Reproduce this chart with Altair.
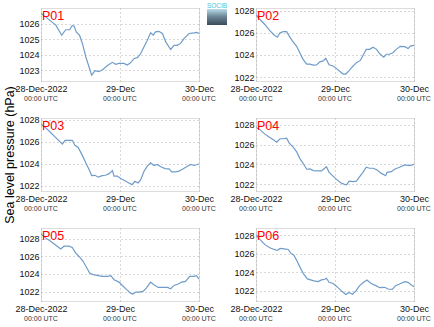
import altair as alt
import pandas as pd

FONT = "Liberation Sans"

# ---------------- data (hours since 28-Dec-2022 00:00 UTC, sea level pressure hPa) -------------
hours_p01 = [0, 1.4, 2.9, 4.5, 6.3, 7.5, 8.7, 9.5, 10.1, 10.7, 11.7, 12.6, 13.6, 14.6, 15.4, 16.4, 17.6,
             18.8, 20.2, 21.7, 22.7, 23.7, 25.2, 26.2, 27.2, 28.3, 29.3, 30.3, 31.3, 32.3, 33.3, 34.1,
             34.8, 35.8, 36.9, 37.9, 39.4, 40.4, 41.4, 42.4, 43.5, 45, 46.5, 47.2, 48]
slp_p01 = [1026.64, 1026.43, 1026.17, 1025.9, 1025.25, 1025.6, 1025.6, 1025.87, 1025.83, 1025.46, 1025.25,
           1024.7, 1023.86, 1023.2, 1022.68, 1022.96, 1022.9, 1023.04, 1023.3, 1023.5, 1023.37, 1023.43,
           1023.43, 1023.33, 1023.47, 1023.75, 1023.8, 1024.07, 1024.5, 1024.93, 1025.4, 1025.25, 1025.46,
           1025.5, 1025.36, 1024.82, 1024.33, 1024.6, 1024.6, 1024.72, 1025.04, 1025.36, 1025.4, 1025.43,
           1025.36]

hours_p02 = [0, 1.2, 2.7, 4.2, 5.5, 6.5, 7.3, 8.3, 9.3, 10.1, 11.1, 12.3, 13.3, 14.3, 15.4, 16.4, 17.4, 18.4,
             19.4, 20.4, 21.2, 22.2, 23.4, 24.4, 25.5, 26.5, 27.3, 28.3, 29.3, 30.5, 31.7, 32.7, 33.5, 34.5,
             35.6, 36.6, 37.6, 38.8, 39.6, 40.6, 41.6, 42.6, 43.8, 45.2, 46.2, 46.9, 48]
slp_p02 = [1027.64, 1027.2, 1026.75, 1026.2, 1025.8, 1025.6, 1026.0, 1026.1, 1026.1, 1025.7, 1025.25, 1024.8,
           1024.2, 1023.6, 1023.16, 1023.16, 1023.07, 1023.1, 1023.37, 1023.46, 1023.7, 1023.1, 1023.0,
           1022.78, 1022.5, 1022.27, 1022.27, 1022.57, 1022.93, 1023.3, 1023.5, 1024.06, 1024.5, 1024.5,
           1024.7, 1024.5, 1024.1, 1023.8, 1024.06, 1024.06, 1024.2, 1024.5, 1024.77, 1024.74, 1024.57,
           1024.8, 1024.87]

hours_p03 = [0, 1.4, 2.9, 4.5, 5.5, 6.5, 7.3, 8.5, 9.5, 10.3, 11.3, 12.4, 13.6, 14.6, 15.4, 16.4, 17.4, 18.6,
             19.6, 20.7, 21.7, 22.2, 23.2, 24.2, 25.5, 26.7, 27.7, 28.5, 29.5, 30.3, 31.3, 32.3, 33.3, 34.3,
             35.3, 36.4, 37.7, 38.9, 39.7, 40.9, 41.9, 43.1, 44.5, 45.5, 46.5, 48]
slp_p03 = [1027.62, 1027.3, 1026.86, 1026.4, 1026.1, 1025.8, 1026.15, 1026.15, 1026.15, 1025.7, 1025.5,
           1024.87, 1024.1, 1023.5, 1022.94, 1022.97, 1022.8, 1022.94, 1022.97, 1023.12, 1023.4, 1022.9,
           1022.9, 1022.67, 1022.48, 1022.27, 1022.12, 1022.42, 1022.27, 1022.57, 1023.34, 1023.8, 1024.1,
           1023.86, 1023.95, 1023.74, 1023.58, 1023.55, 1023.28, 1023.28, 1023.34, 1023.55, 1023.8,
           1023.95, 1023.86, 1024.0]

hours_p04 = [0, 1.2, 2.7, 4.2, 5.3, 6.3, 7.3, 8.3, 9.3, 10.1, 11.3, 12.3, 13.3, 14.3, 15.4, 16.4, 17.4, 18.9,
             19.9, 20.6, 21.4, 22.2, 23.4, 24.4, 25.7, 26.7, 27.5, 28.3, 29.5, 30.5, 31.5, 32.5, 33.5, 34.5,
             35.6, 36.8, 38.1, 39.4, 39.8, 41.1, 42.1, 43.6, 45.2, 46.7, 48]
slp_p04 = [1027.73, 1027.5, 1027.05, 1026.7, 1026.47, 1026.24, 1026.58, 1026.58, 1026.64, 1026.14, 1025.73,
           1025.29, 1024.6, 1024.1, 1023.5, 1023.53, 1023.36, 1023.33, 1023.33, 1023.53, 1023.76, 1023.19,
           1022.8, 1022.5, 1022.14, 1022.0, 1021.93, 1022.3, 1022.24, 1022.3, 1022.75, 1023.19, 1023.7,
           1023.6, 1023.6, 1023.42, 1023.08, 1022.85, 1023.19, 1023.25, 1023.5, 1023.7, 1023.93, 1023.86,
           1024.0]

hours_p05 = [0, 1.4, 2.9, 4.5, 6, 7, 8.5, 9.5, 10.5, 11.7, 12.8, 13.8, 14.8, 15.8, 17.1, 18.6, 20.2, 21.2,
             22.2, 23.7, 24.7, 25.9, 27.2, 27.9, 28.8, 29.8, 31, 32, 33.3, 34.3, 35.6, 37, 38.4, 39.4, 40.4,
             41.7, 42.7, 43.9, 45.2, 46.5, 47.2, 48]
slp_p05 = [1028.54, 1028.08, 1027.7, 1027.25, 1026.83, 1027.14, 1027.14, 1027.0, 1026.38, 1025.92, 1025.43,
           1024.75, 1024.1, 1023.92, 1023.84, 1023.73, 1023.73, 1023.8, 1023.35, 1023.08, 1022.7, 1022.29,
           1021.83, 1021.72, 1021.95, 1021.95, 1022.02, 1022.4, 1023.08, 1022.78, 1022.48, 1022.48,
           1022.48, 1022.33, 1022.7, 1022.86, 1023.08, 1023.16, 1023.73, 1023.73, 1023.8, 1023.42]

hours_p06 = [0, 1.2, 2.7, 4.2, 5.5, 6.5, 7.3, 8.5, 9.8, 10.5, 11.5, 12.5, 13.5, 14.5, 15.6, 16.6, 17.6, 18.9,
             19.9, 20.9, 21.4, 22.2, 23.4, 24.6, 25.9, 27.3, 28.3, 29.3, 30.3, 31.5, 32.7, 33.7, 35, 36.4,
             37.6, 39.1, 40.1, 41.4, 42.4, 43.6, 45.2, 46.2, 47.2, 48]
slp_p06 = [1028.05, 1027.57, 1027.0, 1026.66, 1026.48, 1026.37, 1026.59, 1026.55, 1026.48, 1026.1, 1025.85,
           1025.2, 1024.46, 1023.8, 1023.29, 1023.18, 1023.07, 1023.0, 1023.18, 1023.25, 1023.36, 1022.92,
           1022.8, 1022.45, 1022.0, 1021.6, 1021.82, 1021.64, 1021.97, 1022.56, 1022.92, 1023.18, 1022.8,
           1022.56, 1022.34, 1022.38, 1022.2, 1022.15, 1022.56, 1022.74, 1023.0, 1022.92, 1022.63, 1022.45]

panel_names = ["P01", "P02", "P03", "P04", "P05", "P06"]
panel_hours = [hours_p01, hours_p02, hours_p03, hours_p04, hours_p05, hours_p06]
panel_slp = [slp_p01, slp_p02, slp_p03, slp_p04, slp_p05, slp_p06]
y_domains = [[1022.3, 1027.0], [1021.64, 1028.24], [1021.54, 1028.18],
             [1021.3, 1028.68], [1020.94, 1029.2], [1020.9, 1028.8]]
y_ticks = [[1023, 1024, 1025, 1026], [1022, 1024, 1026, 1028], [1022, 1024, 1026, 1028],
           [1022, 1024, 1026, 1028], [1022, 1024, 1026, 1028], [1022, 1024, 1026, 1028]]
x_tick_hours = [0, 24, 48]
x_tick_labels = ["28-Dec-2022", "29-Dec", "30-Dec"]
x_tick_sublabels = ["00:00 UTC", "00:00 UTC", "00:00 UTC"]
x_grid_hours = [0, 6, 12, 18, 24, 30, 36, 42, 48]
y_title = "Sea level pressure (hPa)"
logo_text = "SOCIB"

W, H = 158, 73
LINE_COLOR = "#6f9cc9"
GRID = dict(grid=True, gridColor="#b0b0b0", gridDash=[1, 3], gridWidth=1)

label_expr = " : ".join(
    f"datum.value == {h} ? '{t}'" for h, t in zip(x_tick_hours, x_tick_labels)
) + " : ''"


def make_panel(i):
    df = pd.DataFrame({"h": panel_hours[i], "p": panel_slp[i]})
    x = alt.X("h:Q", title=None,
              scale=alt.Scale(domain=[0, 48], nice=False, zero=False),
              axis=alt.Axis(values=x_grid_hours, labelExpr=label_expr, ticks=False, domain=False,
                            labelPadding=3, labelFontSize=9, labelColor="#111", labelFont=FONT,
                            labelOverlap=False, labelFlush=False, labelBound=False, **GRID))
    yaxis_kw = dict(values=y_ticks[i], format="d", ticks=False, domain=False, labelPadding=2,
                    labelFontSize=9, labelColor="#111", labelFont=FONT, labelFlush=False, **GRID)
    if i == 2:
        y = alt.Y("p:Q", title=y_title, scale=alt.Scale(domain=y_domains[i], nice=False, zero=False),
                  axis=alt.Axis(titleFont=FONT, titleFontSize=12.5, titleFontWeight="normal",
                                titleColor="#000", titlePadding=2, **yaxis_kw))
    else:
        y = alt.Y("p:Q", title=None, scale=alt.Scale(domain=y_domains[i], nice=False, zero=False),
                  axis=alt.Axis(**yaxis_kw))

    line = alt.Chart(df).mark_line(color=LINE_COLOR, strokeWidth=1.2, clip=True).encode(x=x, y=y)

    name = alt.Chart(pd.DataFrame({"n": [panel_names[i]]})).mark_text(
        color="#ff0000", fontSize=12.5, font=FONT, align="left", baseline="alphabetic"
    ).encode(x=alt.value(1), y=alt.value(12), text="n:N")

    sub = alt.Chart(pd.DataFrame({"h": x_tick_hours, "s": x_tick_sublabels})).mark_text(
        fontSize=7, font=FONT, color="#333", align="center", baseline="middle"
    ).encode(x=alt.X("h:Q"), y=alt.value(H + 18), text="s:N")

    layers = [line, name, sub]
    if i == 0:
        grad = alt.LinearGradient(gradient="linear",
                                  stops=[alt.GradientStop(color="#b9dde6", offset=0),
                                         alt.GradientStop(color="#6f8a9a", offset=0.45),
                                         alt.GradientStop(color="#3b4a58", offset=1)],
                                  x1=0, x2=0, y1=0, y2=1)
        logo_box = alt.Chart(pd.DataFrame({"n": [logo_text]})).mark_rect(color=grad).encode(
            x=alt.value(166), x2=alt.value(186), y=alt.value(1), y2=alt.value(17))
        logo_txt = alt.Chart(pd.DataFrame({"n": [logo_text]})).mark_text(
            fontSize=6.5, font=FONT, color="#46c1d6", align="center", baseline="middle"
        ).encode(x=alt.value(176), y=alt.value(-2), text="n:N")
        layers += [logo_box, logo_txt]

    return alt.layer(*layers).properties(width=W, height=H)


chart = alt.concat(*[make_panel(i) for i in range(6)], columns=2,
                   spacing={"row": 37, "column": 57}, bounds="flush").properties(
    padding={"left": 3, "top": 2, "right": 0, "bottom": 0}
).configure_view(stroke="#222", strokeWidth=1).configure(background="white")

chart.save("out.html", embed_options={"renderer": "svg", "actions": False})
